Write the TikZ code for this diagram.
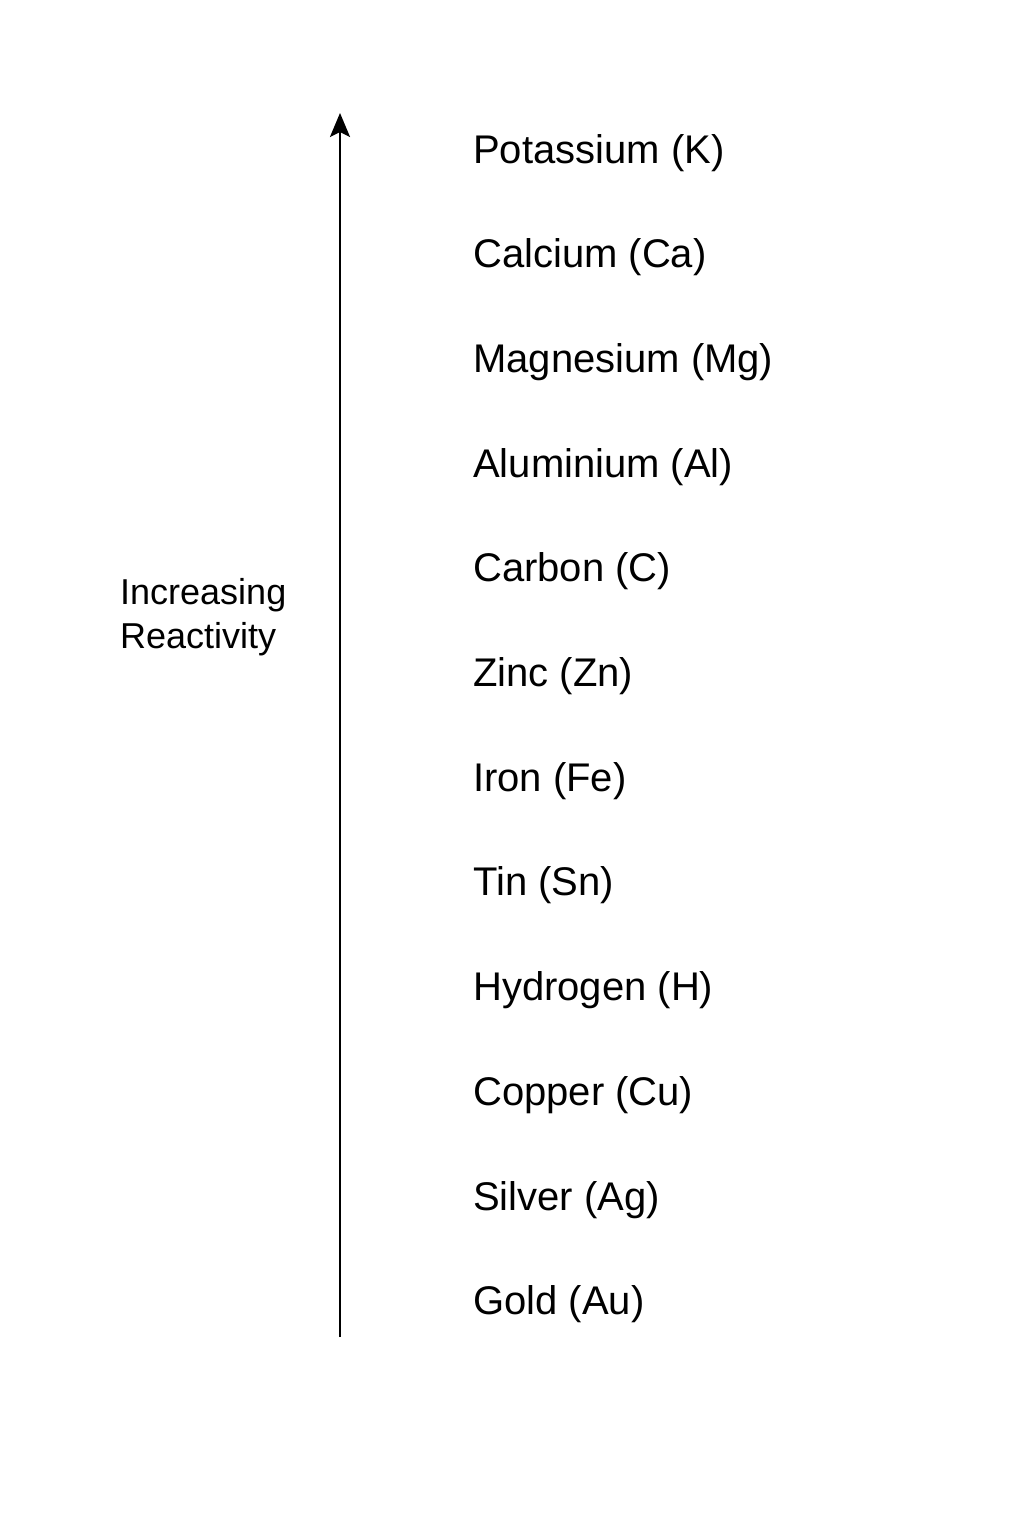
\documentclass[tikz,border=0pt]{standalone}
\usepackage{fontspec}
\setmainfont{Liberation Sans}
\usetikzlibrary{arrows.meta}
\begin{document}
\begin{tikzpicture}[x=1pt,y=1pt,
  elem/.style={anchor=base west,inner sep=0pt,font=\fontsize{40}{48}\selectfont},
  sidelabel/.style={anchor=north west,inner sep=0pt,align=left,font=\fontsize{36}{44}\selectfont},
  axis/.style={line width=2.6pt,-{Stealth[length=24pt,width=20pt,inset=5pt]}}]
\useasboundingbox[fill=white] (0,0) rectangle (1024,-1536);
\coordinate (bot) at (340,-1337);
\coordinate (top) at (340,-113);
\draw[axis] (bot) -- (top);
\foreach \t [count=\i from 0] in {Potassium (K),Calcium (Ca),Magnesium (Mg),Aluminium (Al),Carbon (C),Zinc (Zn),Iron (Fe),Tin (Sn),Hydrogen (H),Copper (Cu),Silver (Ag),Gold (Au)}{
  \node[elem] (e\i) at (473,{-163-\i*104.7}) {\t};
}
\node[sidelabel] (lab) at (120,-578) {Increasing\\Reactivity};
\end{tikzpicture}
\end{document}
